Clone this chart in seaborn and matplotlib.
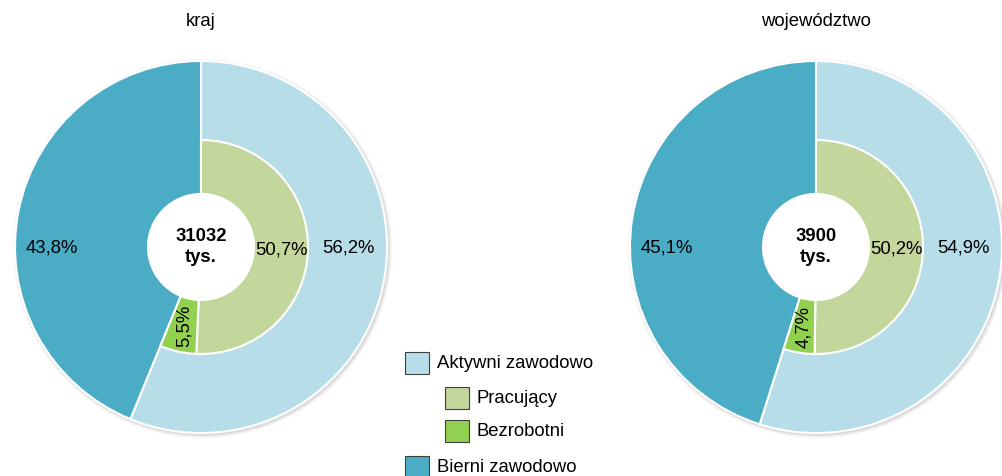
import matplotlib
matplotlib.use("Agg")
import matplotlib.pyplot as plt
import matplotlib.patches as mpatches
import seaborn as sns
import numpy as np

# Data
regions = ["kraj", "województwo"]
totals = ["31032", "3900"]
aktywni = [56.2, 54.9]
pracujacy = [50.7, 50.2]
bezrobotni = [5.5, 4.7]
bierni = [43.8, 45.1]

legendLabels = ["Aktywni zawodowo", "Pracujący", "Bezrobotni", "Bierni zawodowo"]

def pct(v):
	return ("%.1f%%" % v).replace(".", ",")

sns.set_theme(style = "white")
plt.rcParams['font.family'] = ['Liberation Sans', 'DejaVu Sans']
plt.rcParams['text.color'] = "black"

palette = ["#b7dde8", "#c3d69b", "#92d050", "#4bacc6"]
lightBlue, lightGreen, green, teal = palette

W, H = 1003, 477
fig = plt.figure(figsize = (W / 100, H / 100), dpi = 100)
ax = fig.add_axes([0, 0, 1, 1])

centersX = [201, 816]
cy = H - 248
rOuter, rInner, rHole = 186, 107, 53
fs = 13.3

for i, region in enumerate(regions):
	cx = centersX[i]

	# soft shadow around the outer ring
	for k, a in enumerate([0.05, 0.04, 0.03, 0.02]):
		ax.add_patch(mpatches.Circle((cx + 1.5, cy - 1.5), rOuter + 1 + k, color = "black", alpha = a, lw = 0, zorder = 0))
	ax.add_patch(mpatches.Circle((cx, cy), rHole, color = "white", lw = 0, zorder = 0.5))

	wedges, _ = ax.pie(
		[aktywni[i], bierni[i]],
		radius = rOuter,
		center = (cx, cy),
		startangle = 90,
		counterclock = False,
		colors = [lightBlue, teal],
		wedgeprops = dict(width = rOuter - rHole, edgecolor = "white", linewidth = 1.5),
	)

	inner, _ = ax.pie(
		[pracujacy[i], bezrobotni[i], bierni[i]],
		radius = rInner,
		center = (cx, cy),
		startangle = 90,
		counterclock = False,
		colors = [lightGreen, green, teal],
		wedgeprops = dict(width = rInner - rHole, edgecolor = "white", linewidth = 1.5),
	)
	inner[2].set_visible(False)

	# labels of the outer ring
	ax.text(cx + 147, cy, pct(aktywni[i]), ha = "center", va = "center", fontsize = fs)
	ax.text(cx - 149, cy, pct(bierni[i]), ha = "center", va = "center", fontsize = fs)

	# labels of the inner ring, at the middle of each wedge
	rMid = (rInner + rHole) / 2
	for j, v in enumerate([pracujacy[i], bezrobotni[i]]):
		start = sum([pracujacy[i], bezrobotni[i]][:j])
		ang = np.deg2rad(90 - (start + v / 2) * 3.6)
		rot = 90 if v < 10 else 0
		ax.text(cx + rMid * np.cos(ang), cy + rMid * np.sin(ang), pct(v),
			ha = "center", va = "center", fontsize = fs, rotation = rot)

	ax.text(cx, cy + 1, totals[i] + "\ntys.", ha = "center", va = "center",
		fontsize = fs, fontweight = "bold", linespacing = 1.3)

	ax.text(cx, H - 22, region, ha = "center", va = "center", fontsize = fs)

# legend with indented sub-items
legendRows = [(405, 364), (445, 399), (445, 432), (405, 468)]
for (x, y), label, col in zip(legendRows, legendLabels, palette):
	ax.add_patch(mpatches.Rectangle((x, H - y - 11), 24, 22, facecolor = col, edgecolor = "#404040", lw = 0.8))
	ax.text(x + 32, H - y, label, ha = "left", va = "center", fontsize = fs)

ax.set_aspect("equal")
ax.set_xlim(0, W)
ax.set_ylim(0, H)
ax.axis("off")

plt.savefig("out.png", dpi = 100)
